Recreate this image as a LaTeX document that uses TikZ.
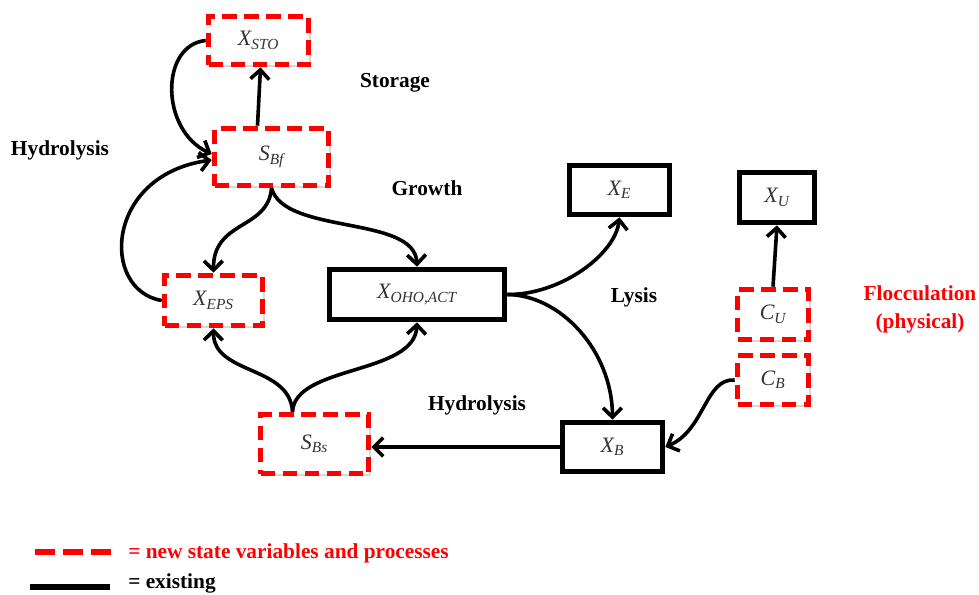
\documentclass[tikz,border=0pt]{standalone}
\usepackage{fontspec}
\setmainfont{Liberation Serif}
\usetikzlibrary{arrows.meta,shadows,calc}
\begin{document}
\begin{tikzpicture}[x=0.75pt,y=-0.75pt,
  boxbase/.style={fill=white, inner sep=0pt, line width=4.2pt,
    font=\fontsize{16.5}{18}\selectfont\itshape, text=black!80,
    drop shadow={shadow xshift=2pt, shadow yshift=-2pt, opacity=0.3}},
  newbox/.style={boxbase, draw=red, dash pattern=on 11pt off 5.5pt},
  oldbox/.style={boxbase, draw=black},
  flow/.style={line width=2.7pt, -{Straight Barb[length=7pt,width=14pt,line width=2.7pt]}},
  lbl/.style={font=\fontsize{16}{21}\selectfont\bfseries, inner sep=0pt}]
\useasboundingbox (0,0) rectangle (979,594);

% boxes
\node[newbox, minimum width=75pt, minimum height=36pt] (xsto) at (258.5,40.5) {X\textsubscript{STO}};
\node[newbox, minimum width=85.5pt, minimum height=42.75pt] (sbf) at (271.5,157) {S\textsubscript{Bf}};
\node[newbox, minimum width=73.5pt, minimum height=37.5pt] (xeps) at (213.5,300.5) {X\textsubscript{EPS}};
\node[oldbox, minimum width=131.25pt, minimum height=37.5pt] (xoho) at (417,294.5) {X\textsubscript{OHO,ACT}};
\node[newbox, minimum width=81pt, minimum height=44.25pt] (sbs) at (314.5,444) {S\textsubscript{Bs}};
\node[oldbox, minimum width=75pt, minimum height=36.75pt] (xe) at (619.5,190) {X\textsubscript{E}};
\node[oldbox, minimum width=56.25pt, minimum height=37.5pt] (xu) at (777,197.5) {X\textsubscript{U}};
\node[newbox, minimum width=53.25pt, minimum height=37.5pt] (cu) at (773,314.5) {C\textsubscript{U}};
\node[newbox, minimum width=53.25pt, minimum height=36.75pt] (cb) at (773,380) {C\textsubscript{B}};
\node[oldbox, minimum width=75pt, minimum height=36.75pt] (xb) at (612.5,447) {X\textsubscript{B}};

% labels
\node[lbl] (storage) at (395,83) {Storage};
\node[lbl] (hydro1) at (60,150) {Hydrolysis};
\node[lbl] (growth) at (427,188) {Growth};
\node[lbl] (lysis) at (634,297) {Lysis};
\node[lbl] (hydro2) at (477,405) {Hydrolysis};
\node[lbl, text=red, align=center] (floc) at (920,309) {Flocculation\\(physical)};

% connectors
\draw[flow] ($(sbf.north)+(-14,0)$) -- ($(xsto.south)+(2,0)$);
\draw[flow] (xsto.west) .. controls (160,45) and (160,130) .. ($(sbf.west)+(0,-3)$);
\draw[flow] (xeps.west) .. controls (100,290) and (105,175) .. ($(sbf.west)+(0,3)$);
\draw[flow] (sbf.south) .. controls (268,230) and (213,220) .. (xeps.north);
\draw[flow] (sbf.south) .. controls (285,235) and (415,215) .. (xoho.north);
\draw[flow] ($(sbs.north)+(-22,0)$) .. controls (290,365) and (213,375) .. (xeps.south);
\draw[flow] ($(sbs.north)+(-22,0)$) .. controls (295,365) and (415,375) .. (xoho.south);
\draw[flow] (xoho.east) .. controls (560,295) and (615,255) .. (xe.south);
\draw[flow] (xoho.east) .. controls (560,295) and (612,350) .. (xb.north);
\draw[flow] (xb.west) -- (xb.west -| sbs.east);
\draw[flow] (cb.west) .. controls (705,378) and (705,430) .. (xb.east);
\draw[flow] (cu.north) -- (xu.south);

% legend
\draw[red, line width=4.5pt, dash pattern=on 15pt off 6pt] (35,552) -- (113,552);
\node[lbl, text=red, anchor=west] (leg1) at (128,553) {= new state variables and processes};
\draw[black, line width=4.5pt] (30,587) -- (110,587);
\node[lbl, anchor=west] (leg2) at (128,583) {= existing};
\end{tikzpicture}
\end{document}
